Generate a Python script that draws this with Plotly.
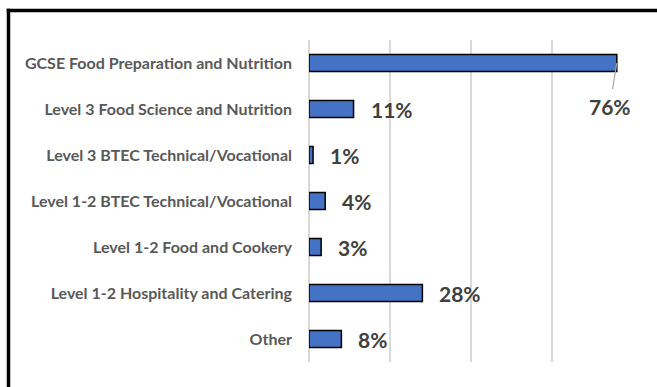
import plotly.graph_objects as go

# Qualifications offered and share of respondents
categories = [
    "GCSE Food Preparation and Nutrition",
    "Level 3 Food Science and Nutrition",
    "Level 3 BTEC Technical/Vocational",
    "Level 1-2 BTEC Technical/Vocational",
    "Level 1-2 Food and Cookery",
    "Level 1-2 Hospitality and Catering",
    "Other",
]
shares = [0.76, 0.11, 0.01, 0.04, 0.03, 0.28, 0.08]
labels = ["76%", "11%", "1%", "4%", "3%", "28%", "8%"]

W, H = 657, 387
# plot area edges in pixels
P_L, P_R, P_T, P_B = 309, 633, 40, 362

fig = go.Figure(
    go.Bar(
        x=shares,
        y=categories,
        orientation="h",
        width=0.37,
        marker=dict(color="#4472C4", line=dict(color="#000000", width=1.5)),
        hoverinfo="skip",
    )
)

label_font = dict(family="Lato, 'Open Sans', sans-serif", size=21, color="#404040")
annotations = []
for cat, val, txt in zip(categories, shares, labels):
    if cat == categories[0]:
        # largest bar: label sits below the bar end with a leader line
        annotations.append(dict(
            x=val, y=cat, xref="x", yref="y", text=f"<b>{txt}</b>",
            showarrow=True, arrowhead=0, arrowwidth=1.2, arrowcolor="#a6a6a6",
            ax=-7, ay=43, standoff=0, borderpad=4, font=label_font,
        ))
    else:
        annotations.append(dict(
            x=val, y=cat, xref="x", yref="y", text=f"<b>{txt}</b>",
            showarrow=False, xanchor="left", yanchor="middle", xshift=15, yshift=0,
            font=label_font,
        ))

# chart frame: solid strips along the top and left edges, kept within the page
def fx(p):
    return p / W

def fy(p):
    return 1 - p / H

def strip(x0, x1, y0, y1):
    return dict(type="rect", xref="paper", yref="paper",
                x0=fx(x0), x1=fx(x1), y0=fy(y1), y1=fy(y0),
                fillcolor="#000000", line=dict(width=0), layer="above")

shapes = [
    strip(6.75, W, 8.75, 12.25),
    strip(6.75, 10.25, 8.75, H),
]

fig.update_layout(
    width=W, height=H,
    margin=dict(l=0, r=0, t=0, b=0, pad=0),
    paper_bgcolor="white", plot_bgcolor="white",
    showlegend=False,
    annotations=annotations,
    shapes=shapes,
    xaxis=dict(
        domain=[fx(P_L), fx(P_R)],
        range=[0, 0.8], autorange=False, dtick=0.2, showticklabels=False,
        showgrid=True, gridcolor="#d9d9d9", gridwidth=1.5,
        zeroline=True, zerolinecolor="#d9d9d9", zerolinewidth=1.5,
        fixedrange=True,
    ),
    yaxis=dict(
        domain=[fy(P_B), fy(P_T)],
        categoryorder="array", categoryarray=categories,
        range=[len(categories) - 0.5, -0.5], autorange=False,
        showgrid=False, ticks="",
        ticklabelstandoff=16,
        tickfont=dict(family="Lato, 'Open Sans', sans-serif", size=16, color="#595959", weight="bold"),
        fixedrange=True,
    ),
)

fig.write_html("out.html", config={"displayModeBar": False})
